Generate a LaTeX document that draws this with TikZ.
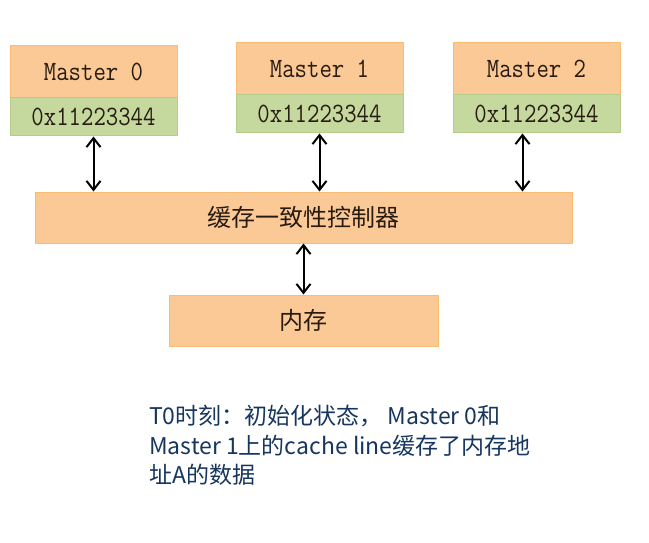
\documentclass[tikz,border=0pt]{standalone}
\usepackage{fontspec}
\usepackage{graphicx}
\newfontfamily\cjk{Noto Sans CJK SC}
\usetikzlibrary{arrows.meta}
\definecolor{boxorange}{RGB}{251,201,150}
\definecolor{oedge}{RGB}{247,190,115}
\definecolor{boxgreen}{RGB}{197,217,158}
\definecolor{gedge}{RGB}{180,205,138}
\definecolor{boxtext}{RGB}{40,28,18}
\definecolor{navy}{RGB}{22,54,94}
\newcommand\mtxt[1]{\scalebox{0.86}[1]{#1}}
\begin{document}
\begin{tikzpicture}[x=1pt,y=-1pt,
  obox/.style={draw=oedge, fill=boxorange, line width=1pt, inner sep=0pt,
    minimum width=167pt, minimum height=52pt},
  gbox/.style={draw=gedge, fill=boxgreen, line width=1pt, inner sep=0pt,
    minimum width=167pt, minimum height=38pt},
  mono/.style={font=\fontsize{28}{28}\selectfont\ttfamily, text=boxtext},
  cjkbox/.style={font=\cjk\fontsize{24}{24}\selectfont, text=boxtext},
  link/.style={{Straight Barb[length=9pt,width=14pt,line width=2pt]}-{Straight Barb[length=9pt,width=14pt,line width=2pt]},
    line width=2pt, black}
]
\useasboundingbox (0,0) rectangle (649,543);

% masters
\node[obox, mono] (m0) at (93.5,72) {\mtxt{Master 0}};
\node[gbox, mono] (g0) at (93.5,117) {\mtxt{0x11223344}};
\node[obox, mono] (m1) at (319.5,69) {\mtxt{Master 1}};
\node[gbox, mono] (g1) at (319.5,114) {\mtxt{0x11223344}};
\node[obox, mono] (m2) at (536.5,69) {\mtxt{Master 2}};
\node[gbox, mono] (g2) at (536.5,114) {\mtxt{0x11223344}};

% controller and memory
\node[obox, cjkbox, minimum width=537pt, minimum height=51pt] (ctrl) at (303.5,217.5) {缓存一致性控制器};
\node[obox, cjkbox, minimum width=269pt, minimum height=51pt] (mem) at (303.5,320.5) {内存};

% connectors
\draw[link] (g0.south) -- (g0.south |- ctrl.north);
\draw[link] (g1.south) -- (g1.south |- ctrl.north);
\coordinate (g2a) at ([xshift=-14pt]g2.south);
\draw[link] (g2a) -- (g2a |- ctrl.north);
\draw[link] (ctrl.south -| mem.north) -- (mem.north);

% caption
\node[anchor=north west, inner sep=0pt, align=left, text=navy,
  font=\cjk\fontsize{23}{29.5}\selectfont] (cap) at (149,405)
  {T0时刻：初始化状态， Master 0和\\Master 1上的cache line缓存了内存地\\址A的数据};
\end{tikzpicture}
\end{document}
